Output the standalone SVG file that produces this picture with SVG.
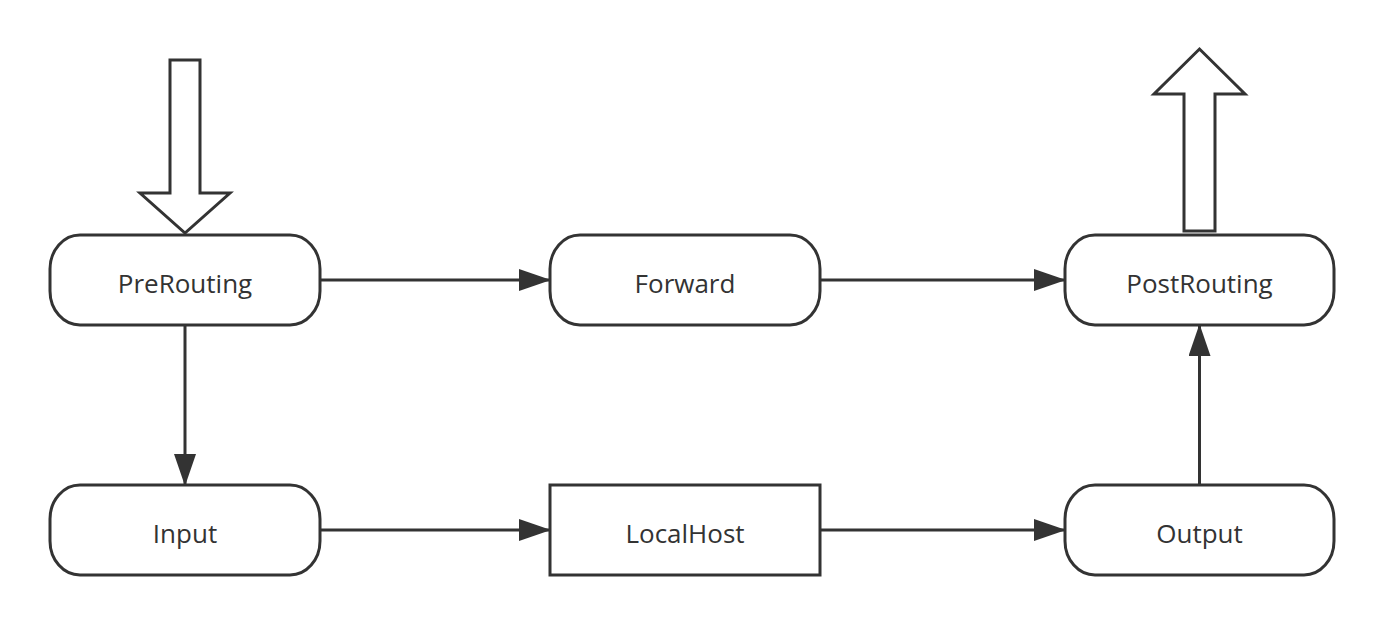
<svg xmlns="http://www.w3.org/2000/svg" width="1384" height="625" viewBox="0 0 1384 625">
<style>
.n{fill:#fff;stroke:#333;stroke-width:3}
.t{font-family:"Open Sans","Noto Sans",sans-serif;font-size:26px;fill:#333;text-anchor:middle}
.c{fill:none;stroke:#333;stroke-width:3}
</style>
<defs>
<marker id="ah" viewBox="0 0 32 22" refX="31" refY="11" markerWidth="32" markerHeight="22" markerUnits="userSpaceOnUse" orient="auto">
<path d="M0,0 L32,11 L0,22 Z" fill="#333"/>
</marker>
</defs>
<rect width="1384" height="625" fill="#fff"/>
<g id="arrow-in"><path class="n" d="M170,60 H200 V193 H230 L185,233 L140,193 H170 Z"/></g>
<g id="arrow-out"><path class="n" d="M1184,231 H1215 V94 H1245 L1199.5,49 L1154,94 H1184 Z"/></g>
<g id="connectors">
<path class="c" d="M320,280 H550" marker-end="url(#ah)"/>
<path class="c" d="M820,280 H1065" marker-end="url(#ah)"/>
<path class="c" d="M185,325 V485" marker-end="url(#ah)"/>
<path class="c" d="M320,530 H550" marker-end="url(#ah)"/>
<path class="c" d="M820,530 H1065" marker-end="url(#ah)"/>
<path class="c" d="M1199.5,485 V325" marker-end="url(#ah)"/>
</g>
<g id="prerouting"><rect class="n" x="50" y="235" width="270" height="90" rx="30" ry="34"/><text class="t" x="185" y="293">PreRouting</text></g>
<g id="forward"><rect class="n" x="550" y="235" width="270" height="90" rx="30" ry="34"/><text class="t" x="685" y="293">Forward</text></g>
<g id="postrouting"><rect class="n" x="1065" y="235" width="269" height="90" rx="30" ry="34"/><text class="t" x="1199.5" y="293">PostRouting</text></g>
<g id="input"><rect class="n" x="50" y="485" width="270" height="90" rx="30" ry="34"/><text class="t" x="185" y="543">Input</text></g>
<g id="localhost"><rect class="n" x="550" y="485" width="270" height="90"/><text class="t" x="685" y="543">LocalHost</text></g>
<g id="output"><rect class="n" x="1065" y="485" width="269" height="90" rx="30" ry="34"/><text class="t" x="1199.5" y="543">Output</text></g>
</svg>
